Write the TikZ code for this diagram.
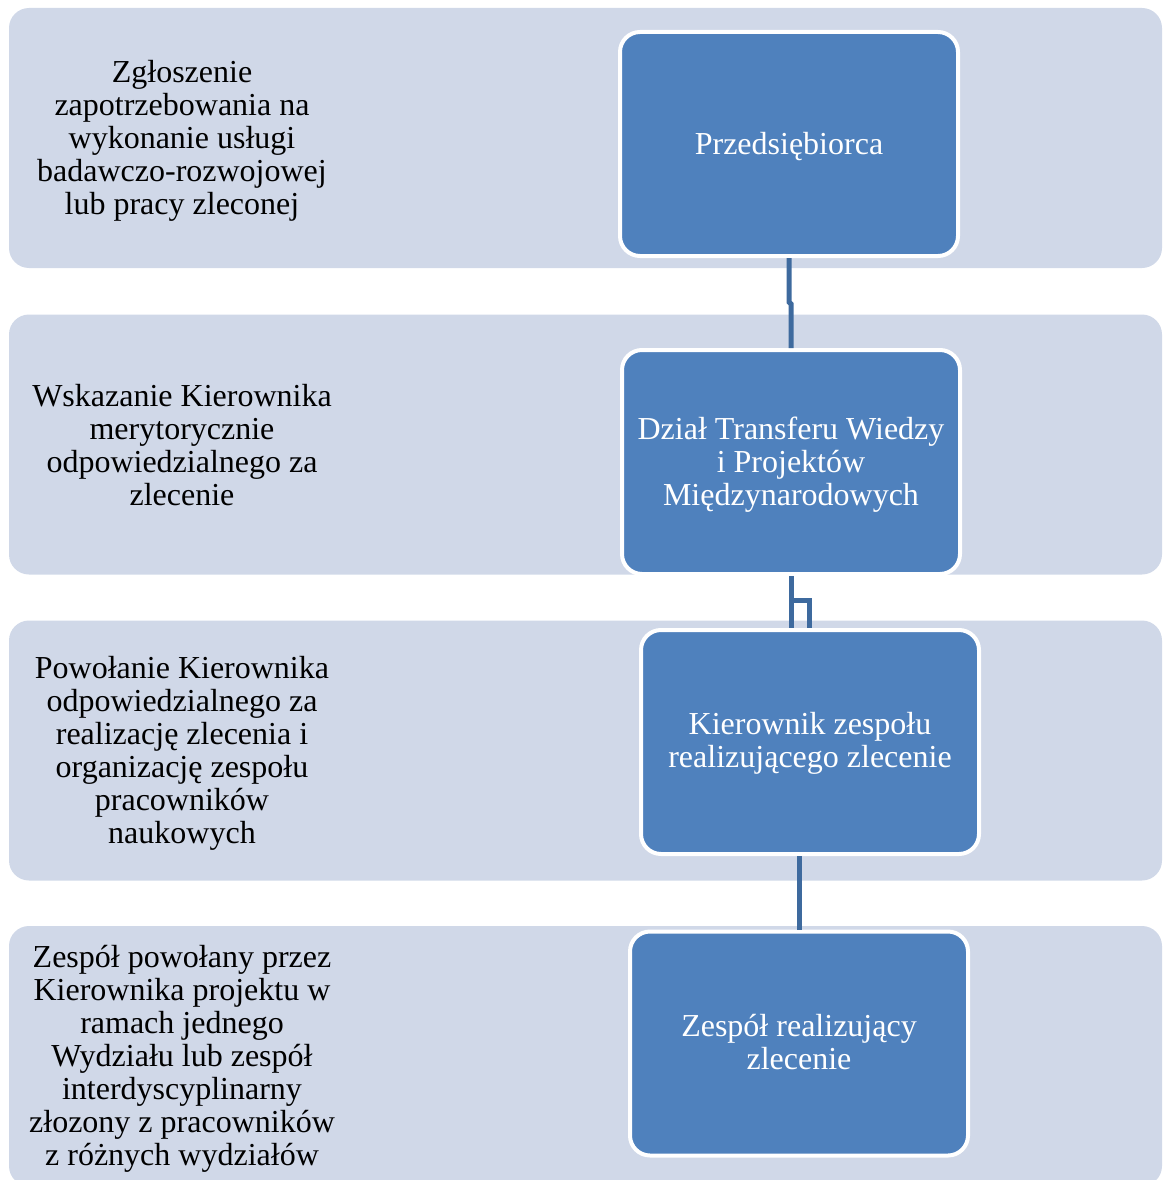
\documentclass[tikz,border=0pt]{standalone}
\usepackage{fontspec}
\setmainfont{Liberation Serif}
\usetikzlibrary{calc}
\definecolor{bandc}{HTML}{D0D8E8}
\definecolor{boxc}{HTML}{4F81BD}
\definecolor{connc}{HTML}{3E6A9E}
\tikzset{
  bandbox/.style={fill=bandc, draw=none, rounded corners=20pt, minimum width=1153pt, minimum height=260pt, inner sep=0pt},
  bluebox/.style={fill=boxc, draw=white, line width=4pt, rounded corners=20pt, minimum width=338pt, minimum height=224pt, inner sep=0pt},
  boxtext/.style={align=center, text=white, font=\fontsize{32}{33}\selectfont, inner sep=0pt},
  lefttext/.style={align=center, text=black, font=\fontsize{32}{33}\selectfont, inner sep=0pt},
  connline/.style={draw=connc, line width=5pt}
}
\begin{document}
\begin{tikzpicture}[x=1pt,y=-1pt]
\useasboundingbox (0,0) rectangle (1162,1180);
\clip (0,0) rectangle (1162,1180);
\node[bandbox] (band1) at (585.5,138) {};
\node[bandbox] (band2) at (585.5,444.5) {};
\node[bandbox] (band3) at (585.5,750.5) {};
\node[bandbox] (band4) at (585.5,1056) {};

\node[lefttext] (t1) at (182,141) {Zgłoszenie\\zapotrzebowania na\\wykonanie usługi\\badawczo-rozwojowej\\lub pracy zleconej};
\node[lefttext] (t2) at (182,445.5) {Wskazanie Kierownika\\merytorycznie\\odpowiedzialnego za\\zlecenie};
\node[lefttext] (t3) at (182,753.5) {Powołanie Kierownika\\odpowiedzialnego za\\realizację zlecenia i\\organizację zespołu\\pracowników\\naukowych};
\node[lefttext] (t4) at (182,1059) {Zespół powołany przez\\Kierownika projektu w\\ramach jednego\\Wydziału lub zespół\\interdyscyplinarny\\złozony z pracowników\\z różnych wydziałów};

\node[bluebox] (box1) at (789,144) {};
\node[bluebox] (box2) at (791,462) {};
\node[bluebox] (box3) at (810,742) {};
\node[bluebox] (box4) at (799,1043.5) {};
\node[boxtext] (box1t) at ($(box1.center)+(0,3)$) {Przedsiębiorca};
\node[boxtext] (box2t) at ($(box2.center)+(0,3)$) {Dział Transferu Wiedzy\\i Projektów\\Międzynarodowych};
\node[boxtext] (box3t) at ($(box3.center)+(0,1)$) {Kierownik zespołu\\realizującego zlecenie};
\node[boxtext] (box4t) at ($(box4.center)+(0,-1)$) {Zespół realizujący\\zlecenie};

\coordinate (j1) at ($(box1.south)+(0,44)$);
\draw[connline] (box1.south) -- (j1) -- ++(2,2) -- (box2.north);
\coordinate (j2) at ($(box2.south)+(0,24)$);
\draw[connline] (box2.south) -- (box2.south |- box3.north);
\draw[connline] (j2) -| ($(box3.north)+(-1,0)$);
\draw[connline] (box3.south -| box4.north) -- (box4.north);
\end{tikzpicture}
\end{document}
